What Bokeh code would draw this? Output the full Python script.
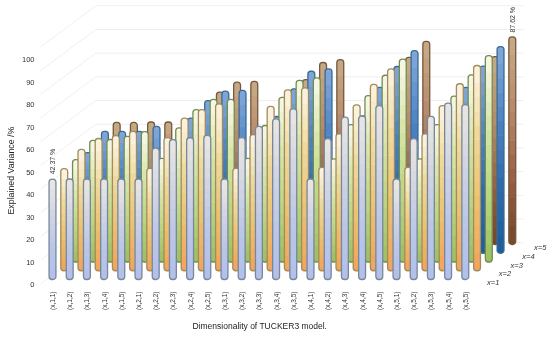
from bokeh.plotting import figure
from bokeh.models import Range1d, LinearAxis, FixedTicker, Title
from bokeh.core.properties import value
from bokeh.embed import file_html
from bokeh.resources import INLINE

categories = [f"(x,{a},{b})" for a in range(1, 6) for b in range(1, 6)]
series_names = ["x=1", "x=2", "x=3", "x=4", "x=5"]
y_ticks = [0, 10, 20, 30, 40, 50, 60, 70, 80, 90, 100]

x1_values = [42.37, 42.4, 42.4, 42.4, 42.4, 42.4, 55.4, 59.0, 59.8, 60.8, 42.4, 59.9, 64.6, 67.8, 72.0, 42.4, 59.4, 68.5, 68.9, 73.4, 42.4, 59.4, 68.8, 74.4, 73.8]
x2_values = [43.1, 51.2, 55.8, 57.0, 58.8, 43.2, 56.2, 64.4, 68.0, 70.4, 43.2, 57.4, 69.4, 76.3, 77.2, 43.6, 57.8, 70.0, 78.6, 85.2, 43.6, 57.8, 69.7, 78.9, 86.6]
x3_values = [43.2, 51.3, 51.7, 53.0, 55.0, 43.7, 56.6, 64.3, 68.6, 68.6, 43.7, 57.6, 69.5, 76.6, 77.7, 43.5, 58.0, 70.2, 78.8, 85.6, 43.5, 58.0, 70.0, 79.0, 87.1]
x4_values = [42.5, 51.4, 51.4, 51.4, 53.5, 43.5, 57.0, 64.4, 68.4, 68.7, 43.5, 57.7, 69.4, 76.8, 77.8, 43.5, 58.0, 70.0, 78.8, 85.5, 43.5, 58.0, 70.0, 79.0, 87.2]
x5_values = [43.0, 51.5, 51.5, 51.7, 51.7, 43.5, 56.0, 64.3, 68.5, 68.8, 43.5, 57.8, 69.6, 76.8, 78.0, 43.5, 58.0, 70.0, 79.0, 85.7, 43.5, 58.0, 70.0, 79.3, 87.62]
all_series = [x1_values, x2_values, x3_values, x4_values, x5_values]

# colour ramps, bottom to top of each column
ramps = [
    ["#b2c0ea", "#bcc6e6", "#d2d5e2", "#e9e6e2"],
    ["#f2a45a", "#ebc273", "#efd99c", "#fcf4e2"],
    ["#9cc062", "#bcd682", "#d8e4a8", "#f8f8e6"],
    ["#1c5c9c", "#2f6cae", "#4f86c4", "#82a8da"],
    ["#75472a", "#9a6248", "#b88a6c", "#c6aa86"],
]
outlines = ["#76889a", "#a08c5c", "#6f8c52", "#3c6a92", "#76583e"]

FONT = "Liberation Sans"
BAR_W = 0.40          # category units
DX = 0.683            # category units per depth step
DY = 3.69             # percent units per depth step
W, H = 550, 338
L, R, T, B = 38, 2, 0, 53
px_x, px_y = 17.2, 2.37
x0_px, y0_px = 52, 279

x_lo = (L - x0_px) / px_x
x_hi = (W - R - x0_px) / px_x
y_lo = (y0_px - (H - B)) / px_y
y_hi = (y0_px - T) / px_y

p = figure(width=W, height=H, output_backend="svg", toolbar_location=None,
           x_range=Range1d(x_lo, x_hi), y_range=Range1d(y_lo, y_hi),
           min_border_left=L, min_border_right=R, min_border_top=T, min_border_bottom=B,
           outline_line_color=None, background_fill_color="white")
p.styles = {"position": "fixed", "left": "0px", "top": "0px"}
p.xgrid.visible = False
p.ygrid.visible = False

# chart box: back wall and left wall
back = 4.2
front = -0.48
left_i, right_i = -0.35, 24.5
for v in y_ticks:
    yb = v + back * DY
    p.line([left_i + back * DX, right_i + back * DX], [yb, yb], line_color="#eeeeee", line_width=1)
    p.line([left_i + front * DX, left_i + back * DX], [v + front * DY, yb], line_color="#f0f0f0", line_width=1)


def mix(c1, c2, t):
    a = [int(c1[i:i + 2], 16) for i in (1, 3, 5)]
    b = [int(c2[i:i + 2], 16) for i in (1, 3, 5)]
    return "#%02x%02x%02x" % tuple(round(a[k] + (b[k] - a[k]) * t) for k in range(3))


def ramp(colours, t):
    t = max(0.0, min(1.0, t)) * (len(colours) - 1)
    k = min(int(t), len(colours) - 2)
    return mix(colours[k], colours[k + 1], t - k)


N = 14
for depth in range(4, -1, -1):
    vals = all_series[depth]
    xs = [i + depth * DX for i in range(len(vals))]
    base = depth * DY
    cols = ramps[depth]
    # rounded ends
    p.vbar(x=xs, width=BAR_W, bottom=base, top=[base + v / 2 for v in vals],
           fill_color=cols[0], line_color=None, border_radius=3)
    p.vbar(x=xs, width=BAR_W, bottom=[base + v / 2 for v in vals], top=[base + v for v in vals],
           fill_color=cols[-1], line_color=None, border_radius=3)
    # colour bands between the ends
    bx, bb, bt, bc = [], [], [], []
    for x, v in zip(xs, vals):
        inset = 1.4
        span = v - 2 * inset
        for k in range(N):
            bx.append(x)
            bb.append(base + inset + span * k / N)
            bt.append(base + inset + span * (k + 1) / N + 0.1)
            bc.append(ramp(cols, (k + 0.5) / N))
    p.vbar(x=bx, width=BAR_W, bottom=bb, top=bt, fill_color=bc, line_color=None)
    p.vbar(x=xs, width=BAR_W, bottom=base, top=[base + v for v in vals],
           fill_color=None, line_color=outlines[depth], line_width=1.3, border_radius=3)

# value labels on first and last columns
p.text(x=[0], y=[x1_values[0] + 2], text=[f"{x1_values[0]:.2f} %"], angle=1.5708,
       text_font=value(FONT), text_font_size="7px", text_color="#333333",
       text_align="left", text_baseline="middle")
p.text(x=[24 + 4 * DX], y=[x5_values[24] + 4 * DY + 1.8], text=[f"{x5_values[24]:.2f} %"], angle=1.5708,
       text_font=value(FONT), text_font_size="7px", text_color="#333333",
       text_align="left", text_baseline="middle")

# depth labels
p.text(x=[25.62 + d * DX for d in range(5)], y=[-1.3 + d * DY for d in range(5)], text=series_names,
       text_font=value(FONT), text_font_style="italic", text_font_size="7.5px", text_color="#333333",
       text_align="center", text_baseline="middle")

# axes
p.xaxis.ticker = FixedTicker(ticks=list(range(25)))
p.xaxis.major_label_overrides = {i: c for i, c in enumerate(categories)}
p.xaxis.major_label_orientation = 1.5708
p.xaxis.major_label_text_font = FONT
p.xaxis.major_label_text_font_size = "6.5px"
p.xaxis.major_label_text_color = "#333333"
p.xaxis.major_label_standoff = 6
p.xaxis.major_tick_out = 0
p.xaxis.major_tick_in = 0
p.xaxis.axis_line_color = None
p.xaxis.major_tick_line_color = None
p.xaxis.minor_tick_line_color = None

p.yaxis.visible = False
p.extra_y_ranges = {"ticks": Range1d((284 - (H - B)) / 2.25, (284 - T) / 2.25)}
ax = LinearAxis(y_range_name="ticks", ticker=FixedTicker(ticks=y_ticks))
ax.major_label_text_font = FONT
ax.major_label_text_font_size = "7.5px"
ax.major_label_text_color = "#333333"
ax.major_label_standoff = 4
ax.major_tick_out = 0
ax.major_tick_in = 0
ax.axis_line_color = None
ax.major_tick_line_color = None
ax.minor_tick_line_color = None
p.add_layout(ax, "left")

p.add_layout(Title(text="Dimensionality of TUCKER3 model.", align="left", offset=192 - L,
                   standoff=12, text_font=FONT, text_font_style="normal",
                   text_font_size="8.5px", text_color="#222222"), "below")
p.add_layout(Title(text="Explained  Variance /%", align="left", offset=(H - B) - 214,
                   standoff=6, text_font=FONT, text_font_style="normal",
                   text_font_size="8.8px", text_color="#222222"), "left")

open("out.html", "w").write(file_html(p, INLINE))
